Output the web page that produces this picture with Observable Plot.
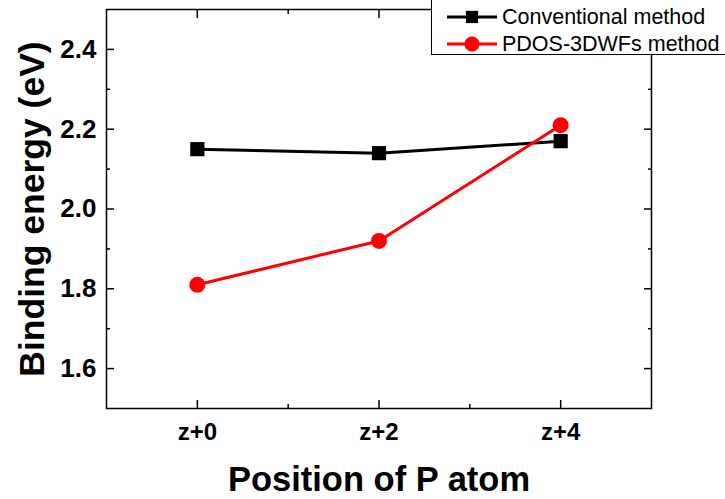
<!DOCTYPE html>
<html><head><meta charset="utf-8">
<script src="https://cdn.jsdelivr.net/npm/d3@7"></script>
<script src="https://cdn.jsdelivr.net/npm/@observablehq/plot@0.6"></script>
<style>
body{margin:0;background:#fff;}
#wrap{position:relative;width:725px;height:499px;overflow:hidden;font-family:"Liberation Sans",Arial,sans-serif;}
#legend{position:absolute;left:431px;top:-2px;width:320px;height:57px;border:1.5px solid #000;background:#fff;box-sizing:border-box;}
.lg-row{position:absolute;left:0;height:24px;display:flex;align-items:center;}
.lg-row span{font-size:21.5px;color:#000;margin-left:4px;white-space:nowrap;}
</style></head><body><div id="wrap"></div>
<script>
const positions = [0, 2, 4];
const positionLabels = ["z+0", "z+2", "z+4"];
const minorPositions = [1, 3];
const conventional = [2.15, 2.14, 2.17];
const pdos = [1.81, 1.92, 2.21];
const seriesNames = ["Conventional method", "PDOS-3DWFs method"];
const seriesColors = ["#000000", "#ff0000"];
const seriesSymbols = ["square", "circle"];
const yTicks = [1.6, 1.8, 2.0, 2.2, 2.4];
const yMinorTicks = [1.7, 1.9, 2.1, 2.3];
const xTitle = "Position of P atom";
const yTitle = "Binding energy (eV)";

const rows = [];
[conventional, pdos].forEach((vals, s) => {
  positions.forEach((p, i) => rows.push({pos: p, value: vals[i], series: seriesNames[s]}));
});

const tickFmt = d => positionLabels[positions.indexOf(d)];

const chart = Plot.plot({
  width: 725, height: 499,
  marginLeft: 106, marginRight: 74, marginTop: 9, marginBottom: 91,
  style: {fontFamily: '"Liberation Sans", Arial, sans-serif', background: "#fff", color: "#000"},
  x: {domain: [-1, 5]},
  y: {domain: [1.5, 2.5]},
  color: {domain: seriesNames, range: seriesColors},
  symbol: {domain: seriesNames, range: seriesSymbols},
  marks: [
    // inward ticks, all four sides
    Plot.axisY(yTicks, {anchor: "left", tickSize: -8, tickFormat: () => "", label: null, strokeWidth: 1.5}),
    Plot.axisY(yMinorTicks, {anchor: "left", tickSize: -4, tickFormat: () => "", label: null, strokeWidth: 1.5}),
    Plot.axisY(yTicks, {anchor: "right", tickSize: -8, tickFormat: () => "", label: null, strokeWidth: 1.5}),
    Plot.axisY(yMinorTicks, {anchor: "right", tickSize: -4, tickFormat: () => "", label: null, strokeWidth: 1.5}),
    Plot.axisX(positions, {anchor: "bottom", tickSize: -8, tickFormat: () => "", label: null, strokeWidth: 1.5}),
    Plot.axisX(minorPositions, {anchor: "bottom", tickSize: -4, tickFormat: () => "", label: null, strokeWidth: 1.5}),
    Plot.axisX(positions, {anchor: "top", tickSize: -8, tickFormat: () => "", label: null, strokeWidth: 1.5}),
    Plot.axisX(minorPositions, {anchor: "top", tickSize: -4, tickFormat: () => "", label: null, strokeWidth: 1.5}),
    // tick labels
    Plot.axisY(yTicks, {anchor: "left", tickSize: 0, tickPadding: 10, tickFormat: d => d.toFixed(1), label: null, fontSize: 26, fontWeight: "bold", fill: "#000"}),
    Plot.axisX(positions, {anchor: "bottom", tickSize: 0, tickPadding: 14, tickFormat: tickFmt, label: null, fontSize: 24, fontWeight: "bold", fill: "#000"}),
    Plot.frame({stroke: "#000", strokeWidth: 1.5}),
    // titles
    Plot.text([yTitle], {frameAnchor: "left", rotate: -90, dx: -63, lineAnchor: "bottom", textAnchor: "middle", fontSize: 35.5, fontWeight: "bold", fill: "#000"}),
    Plot.text([xTitle], {frameAnchor: "bottom", dy: 82, lineAnchor: "bottom", textAnchor: "middle", fontSize: 34.5, fontWeight: "bold", fill: "#000"}),
    // data
    Plot.line(rows, {x: "pos", y: "value", z: "series", stroke: "series", strokeWidth: 3}),
    Plot.dot(rows, {x: "pos", y: "value", fill: "series", symbol: "series", r: 8, stroke: null})
  ]
});

const wrap = document.getElementById("wrap");
wrap.appendChild(chart);

// legend
const legend = document.createElement("div");
legend.id = "legend";
wrap.appendChild(legend);
const rowCenters = [18, 45];
seriesNames.forEach((name, i) => {
  const row = document.createElement("div");
  row.className = "lg-row";
  row.style.top = (rowCenters[i] - 12) + "px";
  row.style.left = "14px";
  const svg = d3.create("svg").attr("width", 52).attr("height", 24);
  svg.append("line").attr("x1", 1).attr("x2", 51).attr("y1", 12).attr("y2", 12)
    .attr("stroke", seriesColors[i]).attr("stroke-width", 3);
  const sym = seriesSymbols[i] === "square" ? d3.symbolSquare : d3.symbolCircle;
  svg.append("path").attr("transform", "translate(26,12)")
    .attr("d", d3.symbol(sym, seriesSymbols[i] === "square" ? 150 : 180)())
    .attr("fill", seriesColors[i]);
  row.appendChild(svg.node());
  const t = document.createElement("span");
  t.textContent = name;
  row.appendChild(t);
  legend.appendChild(row);
});
</script>
</body></html>
